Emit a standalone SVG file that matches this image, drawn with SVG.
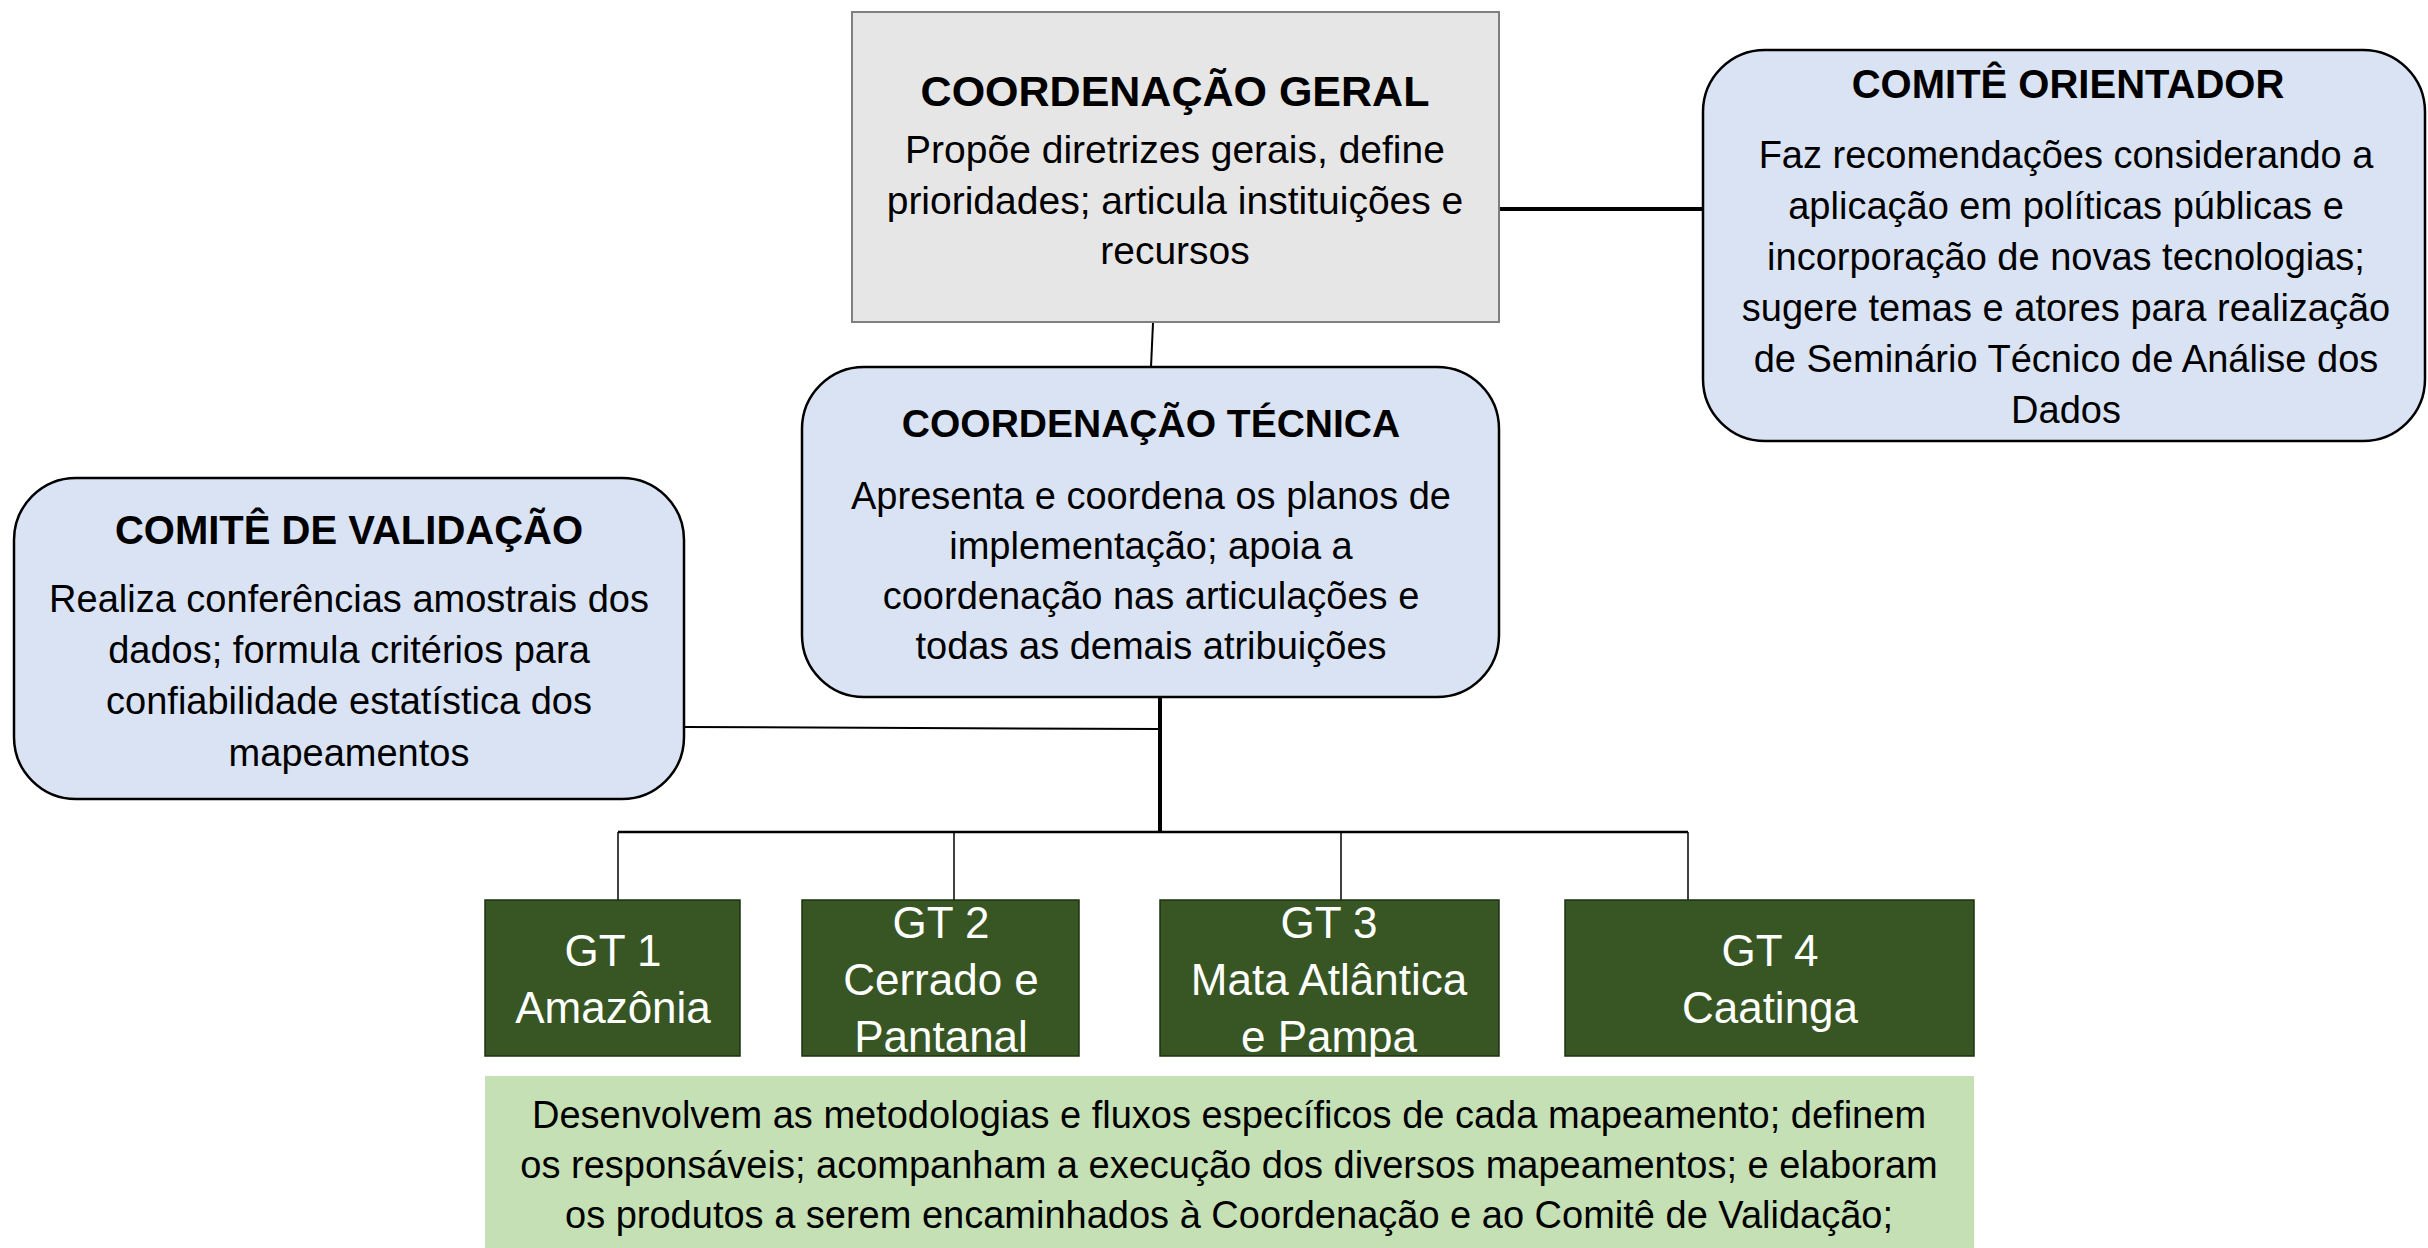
<svg xmlns="http://www.w3.org/2000/svg" width="2428" height="1248" viewBox="0 0 2428 1248">
<style>
text{font-family:"Liberation Sans",Arial,sans-serif;text-anchor:middle;fill:#000}
.t{font-weight:bold;font-size:40px}
.b{font-size:38px}
.g{font-size:44px;fill:#fff}
.blue{fill:#dae3f3;stroke:#000;stroke-width:2.5}
.gt{fill:#375623;stroke:#1e3310;stroke-width:1.5}
.ln{stroke:#000;fill:none}
</style>
<rect width="2428" height="1248" fill="#fff"/>
<g id="connectors">
<line class="ln" x1="1499" y1="209" x2="1703" y2="209" stroke-width="4"/>
<line class="ln" x1="1153" y1="323" x2="1151" y2="367" stroke-width="2"/>
<line class="ln" x1="1160" y1="697" x2="1160" y2="833" stroke-width="4"/>
<line class="ln" x1="684" y1="727" x2="1160" y2="729" stroke-width="2"/>
<line class="ln" x1="618" y1="832" x2="1688" y2="832" stroke-width="2.5"/>
<line class="ln" x1="618" y1="832" x2="618" y2="900" stroke-width="1.5"/>
<line class="ln" x1="954" y1="832" x2="954" y2="900" stroke-width="1.5"/>
<line class="ln" x1="1341" y1="832" x2="1341" y2="900" stroke-width="1.5"/>
<line class="ln" x1="1688" y1="832" x2="1688" y2="900" stroke-width="1.5"/>
</g>
<g id="coord-geral">
<rect x="852" y="12" width="647" height="310" fill="#e7e6e6" stroke="#7f7f7f" stroke-width="2"/>
<text class="t" x="1175" y="106" style="font-size:43px">COORDENAÇÃO GERAL</text>
<text class="b" x="1175" y="163" style="font-size:39px">Propõe diretrizes gerais, define</text>
<text class="b" x="1175" y="214" style="font-size:39px">prioridades; articula instituições e</text>
<text class="b" x="1175" y="264" style="font-size:39px">recursos</text>
</g>
<g id="comite-orientador">
<rect class="blue" x="1703" y="50" width="722" height="391" rx="62" ry="62"/>
<text class="t" x="2068" y="98">COMITÊ ORIENTADOR</text>
<text class="b" x="2066" y="168">Faz recomendações considerando a</text>
<text class="b" x="2066" y="219">aplicação em políticas públicas e</text>
<text class="b" x="2066" y="270">incorporação de novas tecnologias;</text>
<text class="b" x="2066" y="321">sugere temas e atores para realização</text>
<text class="b" x="2066" y="372">de Seminário Técnico de Análise dos</text>
<text class="b" x="2066" y="423">Dados</text>
</g>
<g id="coord-tecnica">
<rect class="blue" x="802" y="367" width="697" height="330" rx="62" ry="62"/>
<text class="t" x="1151" y="437" style="font-size:39px">COORDENAÇÃO TÉCNICA</text>
<text class="b" x="1151" y="509">Apresenta e coordena os planos de</text>
<text class="b" x="1151" y="559">implementação; apoia a</text>
<text class="b" x="1151" y="609">coordenação nas articulações e</text>
<text class="b" x="1151" y="659">todas as demais atribuições</text>
</g>
<g id="comite-validacao">
<rect class="blue" x="14" y="478" width="670" height="321" rx="62" ry="62"/>
<text class="t" x="349" y="544">COMITÊ DE VALIDAÇÃO</text>
<text class="b" x="349" y="612">Realiza conferências amostrais dos</text>
<text class="b" x="349" y="663">dados; formula critérios para</text>
<text class="b" x="349" y="714">confiabilidade estatística dos</text>
<text class="b" x="349" y="766">mapeamentos</text>
</g>
<g id="gt1">
<rect class="gt" x="485" y="900" width="255" height="156"/>
<text class="g" x="613" y="966">GT 1</text>
<text class="g" x="613" y="1023">Amazônia</text>
</g>
<g id="gt2">
<rect class="gt" x="802" y="900" width="277" height="156"/>
<text class="g" x="941" y="938">GT 2</text>
<text class="g" x="941" y="995">Cerrado e</text>
<text class="g" x="941" y="1052">Pantanal</text>
</g>
<g id="gt3">
<rect class="gt" x="1160" y="900" width="339" height="156"/>
<text class="g" x="1329" y="938">GT 3</text>
<text class="g" x="1329" y="995">Mata Atlântica</text>
<text class="g" x="1329" y="1052">e Pampa</text>
</g>
<g id="gt4">
<rect class="gt" x="1565" y="900" width="409" height="156"/>
<text class="g" x="1770" y="966">GT 4</text>
<text class="g" x="1770" y="1023">Caatinga</text>
</g>
<g id="gt-desc">
<rect x="485" y="1076" width="1489" height="172" fill="#c5e0b4"/>
<text class="b" x="1229" y="1128">Desenvolvem as metodologias e fluxos específicos de cada mapeamento; definem</text>
<text class="b" x="1229" y="1178">os responsáveis; acompanham a execução dos diversos mapeamentos; e elaboram</text>
<text class="b" x="1229" y="1228">os produtos a serem encaminhados à Coordenação e ao Comitê de Validação;</text>
</g>
</svg>
